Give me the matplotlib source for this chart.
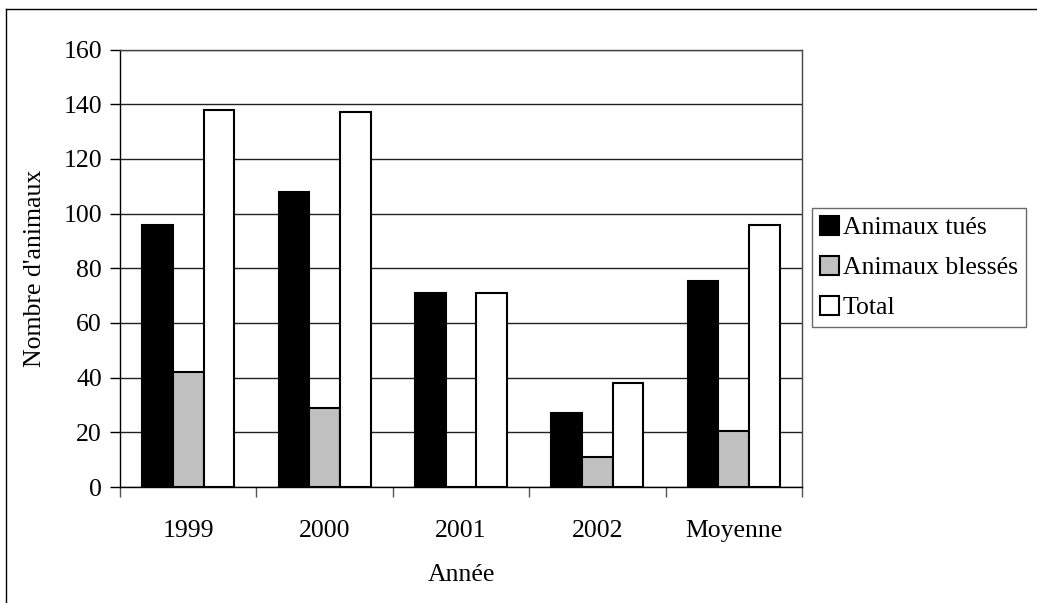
import matplotlib
matplotlib.use("Agg")
import matplotlib.pyplot as plt
import numpy as np
from matplotlib.lines import Line2D

categories = ["1999", "2000", "2001", "2002", "Moyenne"]
tues = [96, 108, 71, 27, 75.5]
blesses = [42, 29, 0, 11, 20.5]
total = [138, 137, 71, 38, 96]
series_names = ["Animaux tués", "Animaux blessés", "Total"]
colors = ["#000000", "#c0c0c0", "#ffffff"]
yticks = [0, 20, 40, 60, 80, 100, 120, 140, 160]

plt.rcParams['font.family'] = ['Liberation Serif', 'DejaVu Serif']
FS = 18.5
W, H = 1037, 603
fig = plt.figure(figsize=(W/100, H/100), dpi=100)
ax = fig.add_axes([120/W, 1-487/H, (802-120)/W, (487-49.5)/H])

x = np.arange(len(categories))
bw = 0.225
for i, (vals, c, name) in enumerate(zip([tues, blesses, total], colors, series_names)):
    ax.bar(x + (i-1)*bw, vals, width=bw, color=c, edgecolor="black", linewidth=1.5,
           label=name, zorder=3)

ax.set_xlim(-0.5, len(categories)-0.5)
ax.set_ylim(0, 160)
ax.set_yticks(yticks)
ax.yaxis.grid(True, color="#222222", linewidth=1.0, zorder=0)
ax.set_xticks(x)
ax.set_xticklabels(categories, fontsize=FS)
ax.tick_params(axis='x', length=0, pad=24)
ax.set_xticks(np.arange(-0.5, len(categories), 1), minor=True)
ax.tick_params(axis='x', which='minor', length=7, width=1, direction='out', color='#555555')
ax.tick_params(axis='y', length=7, width=1, direction='out', labelsize=FS, pad=6)
for s in ['top', 'right']:
    ax.spines[s].set_color('#444444')
    ax.spines[s].set_linewidth(1.0)
for s in ['left', 'bottom']:
    ax.spines[s].set_color('black')
    ax.spines[s].set_linewidth(1.0)

fig.text(35/W, 1-268/H, "Nombre d'animaux", rotation=90, fontsize=FS, ha='center', va='center')
fig.text(461/W, 1-575/H, "Année", fontsize=FS, ha='center', va='center')

leg = ax.legend(loc='upper left', bbox_to_anchor=(812/W, 1-208/H), bbox_transform=fig.transFigure,
                fontsize=FS, frameon=True, fancybox=False, edgecolor='#444444',
                handlelength=0.75, handleheight=0.75, handletextpad=0.15, labelspacing=0.65,
                borderpad=0.3, borderaxespad=0)
leg.get_frame().set_linewidth(1.0)
for h in leg.legend_handles:
    h.set_linewidth(1.5)

fig.add_artist(Line2D([6/W, 6/W], [0, 1-9/H], transform=fig.transFigure, color='black', linewidth=1.0))
fig.add_artist(Line2D([6/W, 1], [1-9/H, 1-9/H], transform=fig.transFigure, color='black', linewidth=1.0))

fig.savefig("out.png", dpi=100)
